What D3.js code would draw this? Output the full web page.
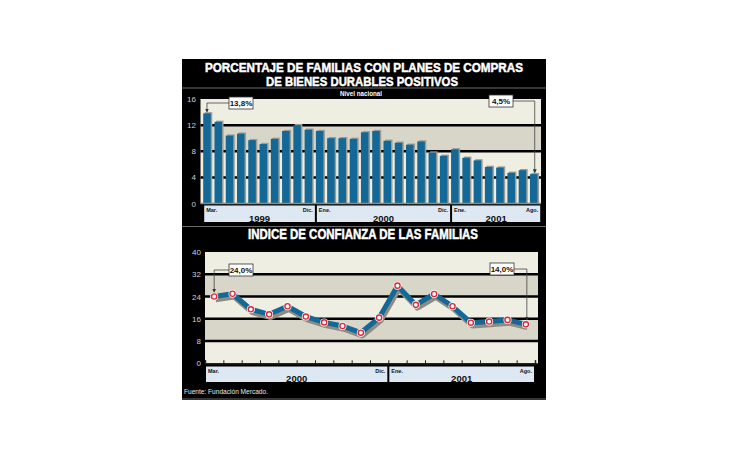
<!DOCTYPE html>
<html>
<head>
<meta charset="utf-8">
<script src="https://cdn.jsdelivr.net/npm/d3@7"></script>
<style>
  body { margin: 0; background: #fff; }
  svg { display: block; font-family: "Liberation Sans", Arial, sans-serif; }
</style>
</head>
<body>
<div id="chart"></div>
<script>
// top chart: monthly bars, Mar 1999 .. Ago 2001
const barMonths = [
  'Mar-99','Abr-99','May-99','Jun-99','Jul-99','Ago-99','Sep-99','Oct-99','Nov-99','Dic-99',
  'Ene-00','Feb-00','Mar-00','Abr-00','May-00','Jun-00','Jul-00','Ago-00','Sep-00','Oct-00','Nov-00','Dic-00',
  'Ene-01','Feb-01','Mar-01','Abr-01','May-01','Jun-01','Jul-01','Ago-01'
];
const barValues = [
  13.8, 12.5, 10.4, 10.7, 9.7, 9.1, 9.9, 11.1, 12.0, 11.3,
  11.1, 10.0, 10.0, 9.9, 10.9, 11.1, 9.6, 9.3, 9.0, 9.5, 7.8, 7.3,
  8.3, 7.0, 6.6, 5.6, 5.5, 4.7, 5.1, 4.5
];
const barTicks = [0, 4, 8, 12, 16];
const barYears = ['1999', '2000', '2001'];
const barYearFrom = ['Mar-99', 'Ene-00', 'Ene-01'];
const barYearTo = ['Dic-99', 'Dic-00', 'Ago-01'];
const barYearFirst = ['Mar.', 'Ene.', 'Ene.'];
const barYearLast = ['Dic.', 'Dic.', 'Ago.'];

// bottom chart: confidence index, Mar 2000 .. Ago 2001
const lineMonths = [
  'Mar-00','Abr-00','May-00','Jun-00','Jul-00','Ago-00','Sep-00','Oct-00','Nov-00','Dic-00',
  'Ene-01','Feb-01','Mar-01','Abr-01','May-01','Jun-01','Jul-01','Ago-01'
];
const lineValues = [
  24.0, 25.0, 19.4, 17.6, 20.5, 16.8, 14.7, 13.4, 11.0, 16.4,
  27.9, 21.0, 24.9, 20.5, 14.6, 15.0, 15.6, 14.0
];
const lineTicks = [0, 8, 16, 24, 32, 40];
const lineYears = ['2000', '2001'];
const lineYearFrom = ['Mar-00', 'Ene-01'];
const lineYearTo = ['Dic-00', 'Ago-01'];
const lineYearFirst = ['Mar.', 'Ene.'];
const lineYearLast = ['Dic.', 'Ago.'];

const W = 730, H = 460;
const light = '#efeee2', dark = '#d8d6c8', boxFill = '#dde8f2', barBlue = '#136897';

const svg = d3.select('#chart').append('svg')
  .attr('width', W).attr('height', H);

const defs = svg.append('defs');
defs.append('marker')
  .attr('id', 'arrow')
  .attr('viewBox', '0 0 6 6').attr('refX', 5).attr('refY', 3)
  .attr('markerWidth', 5).attr('markerHeight', 5).attr('orient', 'auto')
  .append('path').attr('d', 'M0,0L6,3L0,6Z').attr('fill', '#333');

// black panel
svg.append('rect')
  .attr('x', 182).attr('y', 59).attr('width', 364).attr('height', 341)
  .attr('fill', '#000');
[88, 226.5, 399].forEach(yy => {
  svg.append('line').attr('x1', 182).attr('x2', 546).attr('y1', yy).attr('y2', yy)
    .attr('stroke', '#6a6a6a').attr('stroke-width', 1.2);
});

// titles (heavy face imitated with a thin stroke)
const title = (txt, x, y, len, size) => svg.append('text')
  .attr('x', x).attr('y', y).attr('text-anchor', 'middle')
  .attr('fill', '#fff').attr('stroke', '#fff').attr('stroke-width', 0.5)
  .attr('font-weight', 'bold').attr('font-size', size)
  .attr('textLength', len).attr('lengthAdjust', 'spacingAndGlyphs')
  .text(txt);
title('PORCENTAJE DE FAMILIAS CON PLANES DE COMPRAS', 364, 72, 318, 13.5);
title('DE BIENES DURABLES POSITIVOS', 362, 86, 192, 13.5);
title('INDICE DE CONFIANZA DE LAS FAMILIAS', 363, 239, 230, 14);

svg.append('text')
  .attr('x', 361).attr('y', 96).attr('text-anchor', 'middle')
  .attr('fill', '#fff').attr('font-size', 8).attr('font-weight', 'bold')
  .attr('textLength', 42).attr('lengthAdjust', 'spacingAndGlyphs')
  .text('Nivel nacional');

svg.append('text')
  .attr('x', 184).attr('y', 394)
  .attr('fill', '#e8e8e8').attr('font-size', 8)
  .attr('textLength', 84).attr('lengthAdjust', 'spacingAndGlyphs')
  .text('Fuente: Fundación Mercado.');

// helper for banded background
function bands(g, y, ticks, x0, x1, darkSet) {
  for (let i = 0; i < ticks.length - 1; i++) {
    const lo = ticks[i], hi = ticks[i + 1];
    g.append('rect')
      .attr('x', x0).attr('width', x1 - x0)
      .attr('y', y(hi)).attr('height', y(lo) - y(hi))
      .attr('fill', darkSet.includes(hi) ? dark : light);
  }
}

function yearBoxes(g, x, years, from, to, first, last, boxTop, h, yearSize) {
  years.forEach((yr, i) => {
    const a = x(from[i]) + 1;
    const b = x(to[i]) + x.step() - 1;
    g.append('rect').attr('x', a).attr('y', boxTop).attr('width', b - a).attr('height', h)
      .attr('fill', boxFill);
    g.append('text').attr('x', a + 2).attr('y', boxTop + 6)
      .attr('font-size', 5.5).attr('font-weight', 'bold').attr('fill', '#111')
      .text(first[i]);
    g.append('text').attr('x', b - 2).attr('y', boxTop + 6).attr('text-anchor', 'end')
      .attr('font-size', 5.5).attr('font-weight', 'bold').attr('fill', '#111')
      .text(last[i]);
    g.append('text').attr('x', (a + b) / 2).attr('y', boxTop + h - 0.5).attr('text-anchor', 'middle')
      .attr('font-size', yearSize).attr('font-weight', 'bold').attr('fill', '#111')
      .text(yr);
  });
}

function callout(g, label, bx, by, px, pyEnd, side) {
  const bw = 24, bh = 12;
  const edge = side === 'left' ? bx : bx + bw;
  g.append('path')
    .attr('d', `M${edge},${by + bh / 2}H${px}V${pyEnd}`)
    .attr('fill', 'none').attr('stroke', '#444').attr('stroke-width', 0.8)
    .attr('marker-end', 'url(#arrow)');
  g.append('rect').attr('x', bx).attr('y', by).attr('width', bw).attr('height', bh)
    .attr('fill', '#fff').attr('stroke', '#333').attr('stroke-width', 0.8);
  g.append('text').attr('x', bx + bw / 2).attr('y', by + bh - 3).attr('text-anchor', 'middle')
    .attr('font-size', 8).attr('font-weight', 'bold').attr('fill', '#111')
    .text(label);
}

// ---------- top chart ----------
const topG = svg.append('g');
const x1 = d3.scaleBand().domain(barMonths).range([201.4, 539.3]).paddingInner(0.33).paddingOuter(0.16);
const y1 = d3.scaleLinear().domain([0, 16]).range([203.5, 99]);

bands(topG, y1, barTicks, 200.5, 541, [12]);

topG.append('g').attr('transform', 'translate(196,0)')
  .call(d3.axisLeft(y1).tickValues(barTicks).tickSize(0).tickPadding(0))
  .call(g => g.select('.domain').remove())
  .call(g => g.selectAll('text').attr('fill', '#cfcfcf').attr('font-size', 8)
    .attr('font-family', '"Liberation Sans Narrow", "Liberation Sans", sans-serif'));

// grid lines
topG.selectAll('.grid1').data(barTicks.filter(t => t > 0 && t < 16)).enter()
  .append('line')
  .attr('x1', 200.5).attr('x2', 541)
  .attr('y1', d => y1(d)).attr('y2', d => y1(d))
  .attr('stroke', '#000').attr('stroke-width', 2.5);

// bar shadows then bars
topG.selectAll('.shadow').data(barValues).enter().append('rect')
  .attr('x', (d, i) => x1(barMonths[i]) + 1.5)
  .attr('y', d => y1(d) - 1.2)
  .attr('width', x1.bandwidth())
  .attr('height', d => y1(0) - y1(d) + 1.2)
  .attr('fill', '#9c9c94');
topG.selectAll('.bar').data(barValues).enter().append('rect')
  .attr('x', (d, i) => x1(barMonths[i]))
  .attr('y', d => y1(d))
  .attr('width', x1.bandwidth())
  .attr('height', d => y1(0) - y1(d))
  .attr('fill', barBlue);

topG.append('line').attr('x1', 200.5).attr('x2', 541).attr('y1', y1(0)).attr('y2', y1(0))
  .attr('stroke', '#8a8a80').attr('stroke-width', 1.5);

yearBoxes(topG, x1, barYears, barYearFrom, barYearTo, barYearFirst, barYearLast, 205.5, 16.5, 9.5);

const xb = m => x1(m) + x1.bandwidth() / 2;
callout(topG, '13,8%', 229, 97, xb(barMonths[0]), y1(barValues[0]) - 1.5, 'left');
callout(topG, '4,5%', 489, 95, xb(barMonths[29]) + 1, y1(barValues[29]) - 1.5, 'right');

// ---------- bottom chart ----------
const botG = svg.append('g');
const x2 = d3.scaleBand().domain(lineMonths).range([205, 535]);
const y2 = d3.scaleLinear().domain([0, 40]).range([363.3, 252]);

bands(botG, y2, lineTicks, 205, 538, [32, 16]);

botG.append('g').attr('transform', 'translate(201,0)')
  .call(d3.axisLeft(y2).tickValues(lineTicks).tickSize(0).tickPadding(0))
  .call(g => g.select('.domain').remove())
  .call(g => g.selectAll('text').attr('fill', '#cfcfcf').attr('font-size', 8)
    .attr('font-family', '"Liberation Sans Narrow", "Liberation Sans", sans-serif'));

botG.selectAll('.grid2').data(lineTicks.filter(t => t > 0 && t < 40)).enter()
  .append('line')
  .attr('x1', 205).attr('x2', 538)
  .attr('y1', d => y2(d)).attr('y2', d => y2(d))
  .attr('stroke', '#000').attr('stroke-width', 2.5);

// x axis with ticks at band edges
botG.append('g').attr('transform', `translate(0,${y2(0)})`)
  .call(d3.axisBottom(d3.scaleLinear().domain([0, lineMonths.length]).range([205, 535]))
    .ticks(lineMonths.length).tickSize(-3).tickFormat(''))
  .call(g => g.select('.domain').attr('stroke', '#222').attr('stroke-width', 1.5))
  .call(g => g.selectAll('.tick line').attr('stroke', '#222'));

const xc = m => x2(m) + x2.bandwidth() / 2;
const line = d3.line().x((d, i) => xc(lineMonths[i])).y(d => y2(d));

botG.append('path').datum(lineValues)
  .attr('d', line).attr('transform', 'translate(1.5,3)')
  .attr('fill', 'none').attr('stroke', '#8e8c80').attr('stroke-width', 5.5)
  .attr('stroke-linejoin', 'round');
botG.append('path').datum(lineValues)
  .attr('d', line)
  .attr('fill', 'none').attr('stroke', barBlue).attr('stroke-width', 5)
  .attr('stroke-linejoin', 'round');

botG.selectAll('.dot').data(lineValues).enter().append('circle')
  .attr('cx', (d, i) => xc(lineMonths[i])).attr('cy', d => y2(d))
  .attr('r', 4).attr('fill', '#fff');
botG.selectAll('.ring').data(lineValues).enter().append('circle')
  .attr('cx', (d, i) => xc(lineMonths[i])).attr('cy', d => y2(d))
  .attr('r', 2.6).attr('fill', '#fff').attr('stroke', '#d8283a').attr('stroke-width', 1.4);

yearBoxes(botG, x2, lineYears, lineYearFrom, lineYearTo, lineYearFirst, lineYearLast, 366.5, 15.5, 9.5);

callout(botG, '24,0%', 229, 264, xc(lineMonths[0]), y2(lineValues[0]) - 4.5, 'left');
callout(botG, '14,0%', 490, 263, xc(lineMonths[17]) + 1, y2(lineValues[17]) - 4.5, 'right');
</script>
</body>
</html>
